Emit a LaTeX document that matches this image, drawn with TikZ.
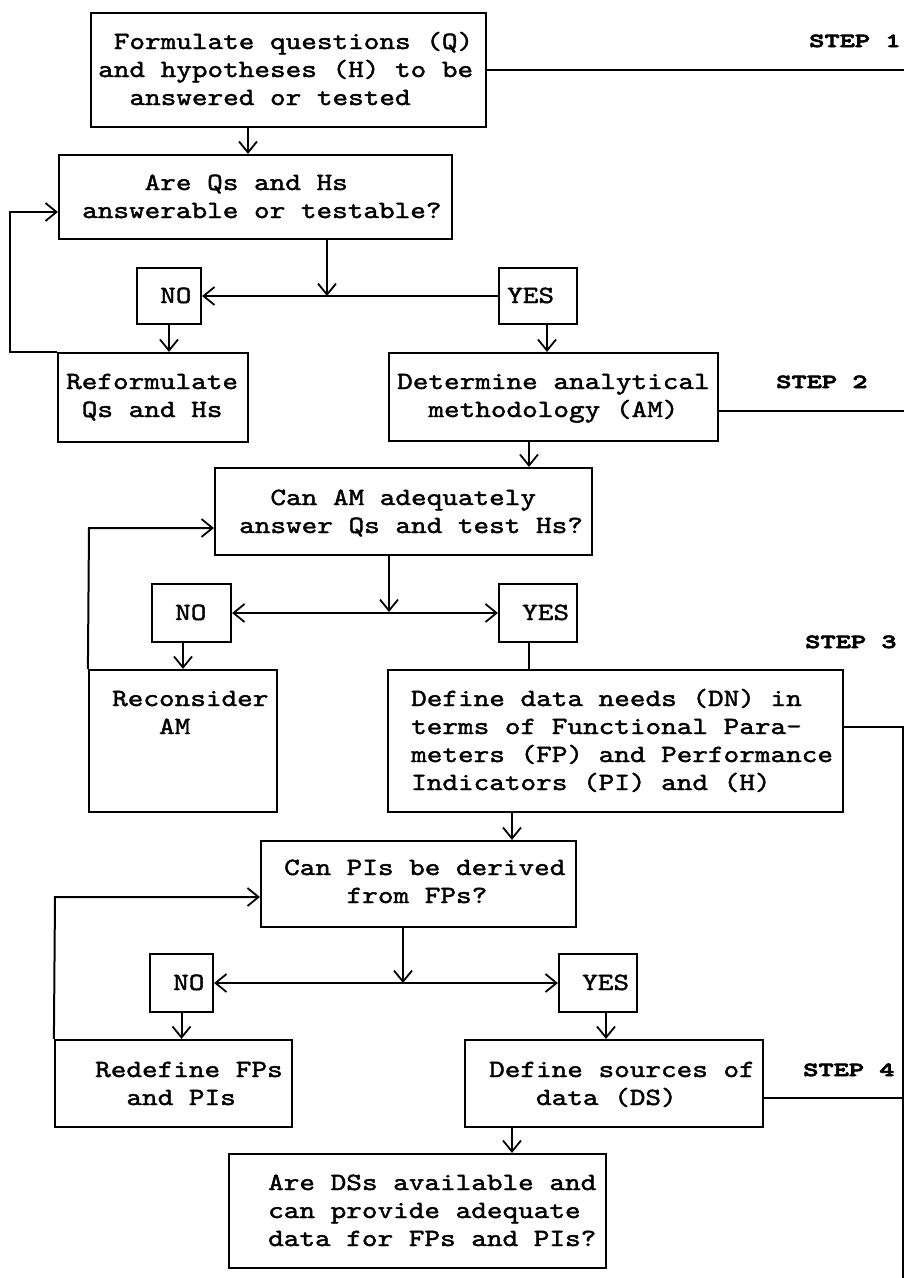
\documentclass[tikz,border=0pt]{standalone}
\usepackage{fontspec}
\newfontfamily\tw{lmmono10-regular.otf}[FakeStretch=1.2,FakeBold=1.6]
\newfontfamily\tws{lmmonolt10-bold.otf}[FakeStretch=1.45,FakeBold=3.5]
\usetikzlibrary{arrows.meta}
\newcommand\ml[1]{\vtop{\baselineskip=28pt #1}}
\newcommand\ph[1]{\hphantom{#1}}
\tikzset{
  box/.style={draw, line width=2.2pt, inner sep=0pt, rectangle},
  ln/.style={line width=2pt},
  barb/.tip={Straight Barb[length=11pt,width=18pt,line width=1.8pt]},
  arr/.style={ln, -barb},
  darr/.style={ln, barb-barb},
  txt/.style={anchor=base west, inner sep=0pt, font=\tw\fontsize{24.8}{28}\selectfont},
  stp/.style={anchor=base west, inner sep=0pt, font=\tws\fontsize{20}{20}\selectfont},
}
\begin{document}
\begin{tikzpicture}[x=1pt,y=-1pt]
\useasboundingbox[fill=white] (0,0) rectangle (904,1278);
% boxes
\node[box, minimum width=395, minimum height=114] (b1) at (288.5,70) {};
\node[box, minimum width=393, minimum height=84] (b2) at (255.5,197) {};
\node[box, minimum width=64, minimum height=56] (no1) at (169,296) {};
\node[box, minimum width=78, minimum height=56] (yes1) at (538,296) {};
\node[box, minimum width=190, minimum height=89] (ref) at (153,397.5) {};
\node[box, minimum width=329, minimum height=88] (det) at (553.5,397) {};
\node[box, minimum width=377, minimum height=87] (b3) at (403.5,511.5) {};
\node[box, minimum width=79, minimum height=58] (no2) at (191.5,613) {};
\node[box, minimum width=78, minimum height=58] (yes2) at (538,613) {};
\node[box, minimum width=188, minimum height=142] (rec) at (183,741) {};
\node[box, minimum width=455, minimum height=142] (dn) at (615.5,741) {};
\node[box, minimum width=315, minimum height=86] (b4) at (418.5,884) {};
\node[box, minimum width=63, minimum height=58] (no3) at (181.5,983) {};
\node[box, minimum width=78, minimum height=58] (yes3) at (598,983) {};
\node[box, minimum width=237, minimum height=87] (red) at (173.5,1083.5) {};
\node[box, minimum width=298, minimum height=87] (ds) at (614,1083.5) {};
\node[box, minimum width=377, minimum height=114] (b5) at (417.5,1211) {};
% texts
\node[txt] (t1) at (98,49) {\ml{\hbox{\ph{x}Formulate questions (Q)}\hbox{and hypotheses (H) to be}\hbox{\ph{xx}answered or tested}}};
\node[txt] (t2) at (82,190) {\ml{\hbox{\ph{xxxx}Are Qs and Hs}\hbox{answerable or testable?}}};
\node[txt] (tn1) at (160,303) {NO};
\node[txt] (ty1) at (507,303) {YES};
\node[txt] (tref) at (66,389) {\ml{\hbox{Reformulate}\hbox{\ph{x}Qs and Hs}}};
\node[txt] (tdet) at (397,389) {\ml{\hbox{Determine analytical}\hbox{\ph{xx}methodology (AM)}}};
\node[txt] (t3) at (239,505) {\ml{\hbox{\ph{xx}Can AM adequately}\hbox{answer Qs and test Hs?}}};
\node[txt] (tn2) at (175,620) {NO};
\node[txt] (ty2) at (522,620) {YES};
\node[txt] (trec) at (112,706) {\ml{\hbox{Reconsider}\hbox{\ph{xxx}AM}}};
\node[txt] (tdn) at (411,706) {\ml{\hbox{Define data needs (DN) in}\hbox{terms of Functional Para-}\hbox{meters (FP) and Performance}\hbox{Indicators (PI) and (H)}}};
\node[txt] (t4) at (284,875) {\ml{\hbox{Can PIs be derived}\hbox{\ph{xxxx}from FPs?}}};
\node[txt] (tn3) at (173,990) {NO};
\node[txt] (ty3) at (582,990) {YES};
\node[txt] (tred) at (95,1077) {\ml{\hbox{Redefine FPs}\hbox{\ph{xx}and PIs}}};
\node[txt] (tds) at (489,1077) {\ml{\hbox{Define sources of}\hbox{\ph{xxx}data (DS)}}};
\node[txt] (t5) at (268,1190) {\ml{\hbox{Are DSs available and}\hbox{can provide adequate}\hbox{data for FPs and PIs?}}};
\node[stp] (s1) at (809,47) {STEP 1};
\node[stp] (s2) at (776,388) {STEP 2};
\node[stp] (s3) at (805,648) {STEP 3};
\node[stp] (s4) at (803,1076) {STEP 4};
% coordinates
\coordinate (r1) at (904,70);
\coordinate (r2) at (904,411);
\coordinate (r3) at (904,727);
\coordinate (r4) at (904,1098);
\coordinate (v1) at (903,727);
\coordinate (v2) at (903,1278);
\coordinate (c1) at (248,0);
\coordinate (c2) at (547,0);
\coordinate (c3) at (529,0);
\coordinate (c4) at (183,0);
\coordinate (c5) at (512,0);
\coordinate (c7) at (606,0);
\coordinate (j1) at (327,296);
\coordinate (j2) at (389,612);
\coordinate (j3) at (403,983);
\coordinate (f1) at (10,212);
\coordinate (f2) at (89,528);
\coordinate (f3) at (55,897);
% connectors
\draw[ln] (b1.east) -- (r1);
\draw[arr] (b1.south -| c1) -- (b2.north -| c1);
\draw[arr] (b2.south -| j1) -- (j1);
\draw[arr] (yes1.west) -- (no1.east);
\draw[arr] (no1.south) -- (no1.south |- ref.north);
\draw[arr] (yes1.south -| c2) -- (det.north -| c2);
\draw[arr] (ref.north west) -| (f1) -- (f1 -| b2.west);
\draw[ln] (det.east |- r2) -- (r2);
\draw[arr] (det.south -| c3) -- (b3.north -| c3);
\draw[arr] (b3.south -| j2) -- (j2);
\draw[darr] (no2.east) -- (yes2.west);
\draw[arr] (no2.south -| c4) -- (rec.north -| c4);
\draw[ln] (yes2.south -| c3) -- (dn.north -| c3);
\draw[arr] (rec.north west) -- (f2) -- (f2 -| b3.west);
\draw[ln] (dn.east |- r3) -- (r3);
\draw[ln] (v1) -- (v2);
\draw[arr] (dn.south -| c5) -- (b4.north -| c5);
\draw[arr] (b4.south -| j3) -- (j3);
\draw[darr] (no3.east) -- (yes3.west);
\draw[arr] (no3.south) -- (no3.south |- red.north);
\draw[arr] (yes3.south -| c7) -- (ds.north -| c7);
\draw[arr] (red.north west) -- (f3) -- (f3 -| b4.west);
\draw[ln] (ds.east |- r4) -- (r4);
\draw[arr] (ds.south -| c5) -- (b5.north -| c5);
\end{tikzpicture}
\end{document}
